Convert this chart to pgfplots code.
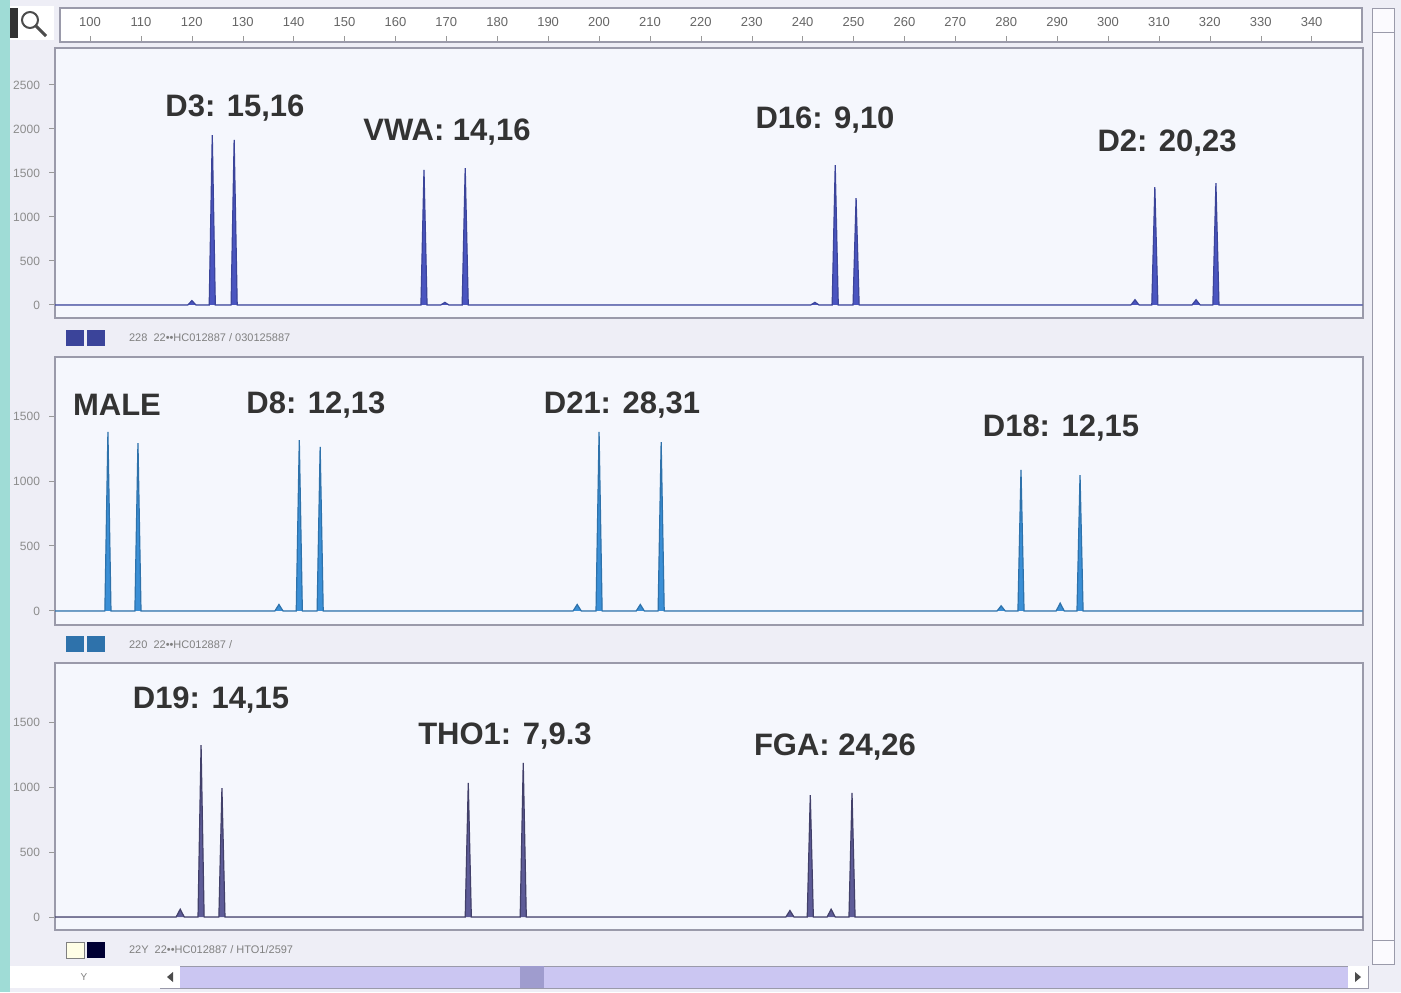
\documentclass[border=0pt]{standalone}
\usepackage{fontspec}
\setmainfont{Liberation Sans}
\usepackage{pgfplots}
\pgfplotsset{compat=1.18}
\definecolor{bgwin}{HTML}{EEEEF6}
\definecolor{panelbg}{HTML}{F5F7FD}
\definecolor{teal1}{HTML}{9FDCD6}
\definecolor{frame}{HTML}{9A9AAA}
\definecolor{cA}{HTML}{4A55C0}
\definecolor{cB}{HTML}{3A8FD6}
\definecolor{cC}{HTML}{5E5C98}
\definecolor{lav}{HTML}{CBC6F2}
\pgfplotsset{
  panel/.style={
    scale only axis, width=654pt, anchor=south west,
    xmin=93.1, xmax=350.1, xtick=\empty,
    ytick pos=left, tick align=outside,
    major tick length=3pt,
    tick style={draw=gray!80, line width=0.5pt},
    yticklabel style={font=\fontsize{6}{6}\selectfont, text=gray!90, xshift=-1pt},
    /pgf/number format/assume math mode=true,
    /pgf/number format/1000 sep={},
    axis line style={draw=frame, line width=1.3pt},
    axis background/.style={fill=panelbg},
    clip=true,
  },
  peak/.style={line width=0.6pt}
}
\newcommand{\lab}[3]{\node[font=\bfseries\fontsize{15.5}{16}\selectfont, text=black!80] at (#1pt,-#2pt) {#3};}
\begin{document}
\begin{tikzpicture}
% window background
\fill[bgwin] (0pt,0pt) rectangle (700.5pt,-496pt);
\fill[teal1] (0pt,0pt) rectangle (5pt,-496pt);
% ruler frame
\fill[white] (30pt,-4pt) rectangle (681pt,-21pt);
% magnifier icon
\fill[white] (5pt,-3pt) rectangle (27pt,-20pt);
\draw[black!70, line width=1pt] (15pt,-10pt) circle (4pt);
\draw[black!70, line width=1.5pt] (18pt,-13pt) -- (23pt,-18pt);
\fill[black!80] (5pt,-4pt) rectangle (9pt,-19pt);
% right scrollbar
\fill[white!92!lav] (686pt,-4pt) rectangle (697pt,-482pt);
\draw[frame] (686pt,-4pt) rectangle (697pt,-482pt);
\draw[frame] (686pt,-16pt) -- (697pt,-16pt);
\draw[frame] (686pt,-470pt) -- (697pt,-470pt);
% bottom scrollbar
\fill[white] (5pt,-483pt) rectangle (80pt,-494pt);
\fill[lav] (80pt,-483pt) rectangle (684pt,-494pt);
\draw[frame] (80pt,-483pt) rectangle (684pt,-494pt);
\fill[white] (80pt,-483pt) rectangle (90pt,-494pt);
\fill[white] (674pt,-483pt) rectangle (684pt,-494pt);
\fill[black!70] (86.5pt,-486pt) -- (86.5pt,-491pt) -- (83.5pt,-488.5pt) -- cycle;
\fill[black!70] (677.5pt,-486pt) -- (677.5pt,-491pt) -- (680.5pt,-488.5pt) -- cycle;
\fill[lav!60!cC] (260pt,-483pt) rectangle (272pt,-494pt);
\node[font=\fontsize{5}{5}\selectfont, text=gray] at (42pt,-488.5pt) {Y};

% ruler axis
\begin{axis}[scale only axis, width=651pt, height=17pt, anchor=south west, at={(30pt,-21pt)},
  xmin=94.1, xmax=349.9, ymin=0, ymax=1, ytick=\empty,
  xtick={100,110,...,340}, xtick pos=bottom, xticklabel pos=top, tick align=inside,
  major tick length=3pt, tick style={draw=gray!80},
  xticklabel style={font=\fontsize{6.5}{6.5}\selectfont, text=gray!80!black, yshift=-13pt},
  /pgf/number format/assume math mode=true,
  axis line style={draw=frame, line width=0.6pt}]
\end{axis}

% panel 1
\begin{axis}[panel, height=135pt, at={(27.5pt,-159pt)}, ymin=-148, ymax=2920,
  ytick={0,500,...,2500}]
\addplot[peak, draw=cA!80!black, fill=cA] coordinates {
(93,0)
(119.2,0)(120.0,50)(120.8,0)
(123.4,0)(124.0,1930)(124.6,0)
(127.7,0)(128.3,1875)(128.9,0)
(165.0,0)(165.6,1535)(166.2,0)
(168.9,0)(169.7,30)(170.5,0)
(173.1,0)(173.7,1555)(174.3,0)
(241.6,0)(242.4,30)(243.2,0)
(245.8,0)(246.4,1590)(247.0,0)
(249.9,0)(250.5,1215)(251.1,0)
(304.5,0)(305.3,60)(306.1,0)
(308.6,0)(309.2,1340)(309.8,0)
(316.5,0)(317.3,60)(318.1,0)
(320.6,0)(321.2,1385)(321.8,0)
(350,0)};
\end{axis}

% panel 2
\begin{axis}[panel, height=134pt, at={(27.5pt,-312.5pt)}, ymin=-108, ymax=1954,
  ytick={0,500,1000,1500}]
\addplot[peak, draw=cB!80!black, fill=cB] coordinates {
(93,0)
(102.9,0)(103.5,1377)(104.1,0)
(108.8,0)(109.4,1292)(110.0,0)
(136.3,0)(137.1,50)(137.9,0)
(140.5,0)(141.1,1315)(141.7,0)
(144.6,0)(145.2,1262)(145.8,0)
(194.9,0)(195.7,50)(196.5,0)
(199.4,0)(200.0,1377)(200.6,0)
(207.3,0)(208.1,50)(208.9,0)
(211.6,0)(212.2,1300)(212.8,0)
(278.2,0)(279.0,40)(279.8,0)
(282.3,0)(282.9,1085)(283.5,0)
(289.8,0)(290.6,60)(291.4,0)
(293.9,0)(294.5,1046)(295.1,0)
(350,0)};
\end{axis}

% panel 3
\begin{axis}[panel, height=133.5pt, at={(27.5pt,-465pt)}, ymin=-100, ymax=1954,
  ytick={0,500,1000,1500}]
\addplot[peak, draw=cC!70!black, fill=cC] coordinates {
(93,0)
(116.9,0)(117.7,60)(118.5,0)
(121.2,0)(121.8,1323)(122.4,0)
(125.3,0)(125.9,992)(126.5,0)
(173.7,0)(174.3,1031)(174.9,0)
(184.5,0)(185.1,1185)(185.7,0)
(236.7,0)(237.5,50)(238.3,0)
(240.9,0)(241.5,938)(242.1,0)
(244.8,0)(245.6,60)(246.4,0)
(249.1,0)(249.7,954)(250.3,0)
(350,0)};
\end{axis}

% allele labels
\lab{117.5}{54}{D3: 15,16}
\lab{223.5}{66}{VWA: 14,16}
\lab{412.5}{60}{D16: 9,10}
\lab{583.5}{71.5}{D2: 20,23}
\lab{58.5}{202.5}{MALE}
\lab{158}{202.5}{D8: 12,13}
\lab{311}{202.5}{D21: 28,31}
\lab{530.5}{214}{D18: 12,15}
\lab{105.5}{350}{D19: 14,15}
\lab{252.5}{368}{THO1: 7,9.3}
\lab{417.5}{373.5}{FGA: 24,26}

% panel info lines
\fill[cA!80!black] (33pt,-165pt) rectangle (42pt,-173pt);
\fill[cA!80!black] (43.5pt,-165pt) rectangle (52.5pt,-173pt);
\node[anchor=west, font=\fontsize{5.5}{6}\selectfont, text=gray] at (61pt,-169pt) {228 \ 22••HC012887 / 030125887};
\fill[cB!80!black] (33pt,-318pt) rectangle (42pt,-326pt);
\fill[cB!80!black] (43.5pt,-318pt) rectangle (52.5pt,-326pt);
\node[anchor=west, font=\fontsize{5.5}{6}\selectfont, text=gray] at (61pt,-322.5pt) {220 \ 22••HC012887 /};
\filldraw[fill=white!90!yellow, draw=gray] (33pt,-471pt) rectangle (42pt,-479pt);
\fill[black!80!blue] (43.5pt,-471pt) rectangle (52.5pt,-479pt);
\node[anchor=west, font=\fontsize{5.5}{6}\selectfont, text=gray] at (61pt,-475pt) {22Y \ 22••HC012887 / HTO1/2597};
\end{tikzpicture}
\end{document}
